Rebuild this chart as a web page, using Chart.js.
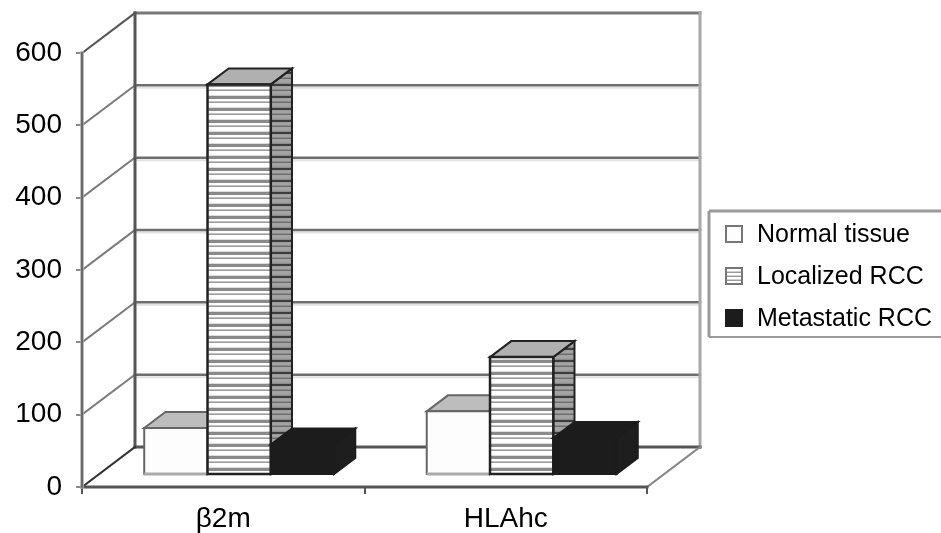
<!DOCTYPE html>
<html>
<head>
<meta charset="utf-8">
<script src="https://cdn.jsdelivr.net/npm/chart.js@4/dist/chart.umd.min.js"></script>
<style>
  html, body { margin: 0; padding: 0; background: #fff; }
  #wrap { width: 941px; height: 533px; position: relative; }
</style>
</head>
<body>
<div id="wrap"><canvas id="chart"></canvas></div>
<script>
const categories = ['β2m', 'HLAhc']
const seriesNames = ['Normal tissue', 'Localized RCC', 'Metastatic RCC']
const normalTissue = [65, 88]
const localizedRcc = [540, 163]
const metastaticRcc = [42, 51]
const yTicks = [0, 100, 200, 300, 400, 500, 600]

const FONT = "'Liberation Sans', Arial, sans-serif"

// floor depth in pixels, and where the bars sit inside it
const DX = 53, DY = -40
const FRONT = 0.3, DEPTH = 0.4

function line(ctx, x1, y1, x2, y2, color, w) {
  ctx.beginPath()
  ctx.moveTo(x1, y1)
  ctx.lineTo(x2, y2)
  ctx.strokeStyle = color
  ctx.lineWidth = w
  ctx.stroke()
}

function poly(ctx, pts, fill, stroke, w) {
  ctx.beginPath()
  ctx.moveTo(pts[0][0], pts[0][1])
  pts.slice(1).forEach((p) => ctx.lineTo(p[0], p[1]))
  ctx.closePath()
  ctx.fillStyle = fill
  ctx.fill()
  if (stroke) {
    ctx.strokeStyle = stroke
    ctx.lineWidth = w
    ctx.stroke()
  }
}

// horizontal stripe patterns like the old excel fills
function stripes(rows) {
  const c = document.createElement('canvas')
  c.width = 4
  c.height = rows.length
  const g = c.getContext('2d')
  rows.forEach((col, i) => {
    g.fillStyle = col
    g.fillRect(0, i, 4, 1)
  })
  return c
}

const frontRows = ['#8a8a8a', '#8a8a8a', '#8a8a8a', '#fff', '#fff', '#c4c4c4', '#9c9c9c', '#fff', '#fff', '#fff', '#fff', '#dcdcdc']
const sideRows = ['#3c3c3c', '#3c3c3c', '#9c9c9c', '#a4a4a4', '#a4a4a4', '#8a8a8a', '#6c6c6c', '#a4a4a4', '#a4a4a4', '#a4a4a4', '#9c9c9c', '#8c8c8c']

const styles = [
  { front: '#fdfdfd', top: '#bdbdbd', side: '#d0d0d0', edge: '#666' },
  { front: null, top: '#b0b0b0', side: null, edge: '#222' },
  { front: '#1c1c1c', top: '#1c1c1c', side: '#1e1e1e', edge: '#1c1c1c' },
]

const box3d = {
  id: 'box3d',
  beforeDatasetsDraw(chart) {
    const { ctx, chartArea: a, scales: { y } } = chart
    const yp = (v) => y.getPixelForValue(v)
    const top = yTicks[yTicks.length - 1]
    ctx.save()
    ctx.lineCap = 'square'
    // back wall grid lines and left wall diagonals
    yTicks.forEach((v) => {
      if (v === 0 || v === top) return
      line(ctx, a.left + DX, yp(v) + DY + 2.5, a.right + DX, yp(v) + DY + 2.5, '#e2e2e2', 2)
      line(ctx, a.left + DX, yp(v) + DY, a.right + DX, yp(v) + DY, '#6e6e6e', 2.5)
      line(ctx, a.left, yp(v), a.left + DX, yp(v) + DY, '#7a7a7a', 2)
    })
    line(ctx, a.left + DX, yp(top) + DY, a.right + DX, yp(top) + DY, '#787878', 3)
    line(ctx, a.left, yp(top), a.left + DX, yp(top) + DY, '#555', 2)
    line(ctx, a.left + DX, yp(top) + DY, a.left + DX, yp(0) + DY, '#555', 3)
    line(ctx, a.right + DX, yp(top) + DY, a.right + DX, yp(0) + DY, '#a8a8a8', 3)
    // floor
    line(ctx, a.left + DX, yp(0) + DY, a.right + DX, yp(0) + DY, '#555', 3)
    line(ctx, a.left, yp(0), a.left + DX, yp(0) + DY, '#333', 2)
    line(ctx, a.right, yp(0), a.right + DX, yp(0) + DY, '#888', 2)
    line(ctx, a.left, yp(0), a.right, yp(0), '#555', 3)
    // front value axis
    line(ctx, a.left, yp(top), a.left, yp(0), '#aaa', 3.5)
    line(ctx, a.left, yp(top), a.left, yp(0), '#555', 1.5)
    ctx.restore()
  },
  afterDatasetsDraw(chart) {
    const { ctx } = chart
    const fPat = ctx.createPattern(stripes(frontRows), 'repeat')
    const sPat = ctx.createPattern(stripes(sideRows), 'repeat')
    const fx = DX * FRONT, fy = DY * FRONT
    const bx = DX * DEPTH, by = DY * DEPTH
    ctx.save()
    ctx.lineJoin = 'miter'
    categories.forEach((c, i) => {
      chart.data.datasets.forEach((ds, d) => {
        const el = chart.getDatasetMeta(d).data[i]
        const { x, y, base, width } = el.getProps(['x', 'y', 'base', 'width'], true)
        const st = styles[d]
        const xl = x - width / 2 + fx, xr = x + width / 2 + fx
        const yt = y + fy, yb = base + fy
        // side
        poly(ctx, [[xr, yt], [xr + bx, yt + by], [xr + bx, yb + by], [xr, yb]], st.side || sPat, st.edge, 2)
        // top
        poly(ctx, [[xl, yt], [xl + bx, yt + by], [xr + bx, yt + by], [xr, yt]], st.top, st.edge, 2)
        // front
        poly(ctx, [[xl, yt], [xr, yt], [xr, yb], [xl, yb]], st.front || fPat, st.edge, d === 1 ? 2.5 : 2)
        if (d === 0) line(ctx, xl, yb, xr, yb, '#aaa', 3)
      })
    })
    ctx.restore()
  },
  afterDraw(chart) {
    const { ctx } = chart
    ctx.save()
    ctx.fillStyle = '#fff'
    ctx.fillRect(710, 211, 240, 126)
    line(ctx, 709, 211, 945, 211, '#9a9a9a', 3)
    line(ctx, 709, 211, 709, 337, '#9a9a9a', 3)
    line(ctx, 709, 337, 945, 337, '#9a9a9a', 2)
    const fPat = ctx.createPattern(stripes(['#9a9a9a', '#fff', '#fff', '#d0d0d0']), 'repeat')
    chart.data.datasets.forEach((ds, d) => {
      const cy = 234 + d * 42
      const st = styles[d]
      ctx.fillStyle = d === 1 ? fPat : st.front
      ctx.fillRect(726, cy - 8, 16, 16)
      ctx.strokeStyle = d === 2 ? '#1c1c1c' : '#777'
      ctx.lineWidth = 2
      ctx.strokeRect(726, cy - 8, 16, 16)
      ctx.fillStyle = '#000'
      ctx.font = `25px ${FONT}`
      ctx.textBaseline = 'middle'
      ctx.textAlign = 'left'
      ctx.fillText(ds.label, 757, cy + 1)
    })
    ctx.restore()
  },
}

const tickFont = { family: FONT, size: 28 }

new Chart(document.getElementById('chart'), {
  type: 'bar',
  data: {
    labels: categories,
    datasets: [
      { label: seriesNames[0], data: normalTissue },
      { label: seriesNames[1], data: localizedRcc },
      { label: seriesNames[2], data: metastaticRcc },
    ].map((ds) => ({ ...ds, backgroundColor: 'rgba(0,0,0,0)', borderWidth: 0, categoryPercentage: 0.672, barPercentage: 1 })),
  },
  options: {
    responsive: true,
    maintainAspectRatio: false,
    animation: false,
    layout: { padding: { top: 53, right: 294, left: 0, bottom: 0 } },
    plugins: { legend: { display: false }, tooltip: { enabled: false } },
    scales: {
      x: {
        grid: { drawOnChartArea: false, drawTicks: true, tickLength: 7, color: '#555', lineWidth: 2, offset: true },
        border: { display: false },
        ticks: { font: tickFont, color: '#000', padding: 8, maxRotation: 0 },
        afterFit: (s) => { s.height = 46 },
      },
      y: {
        min: 0,
        max: 600,
        afterBuildTicks: (s) => { s.ticks = yTicks.map((v) => ({ value: v })) },
        grid: { drawOnChartArea: false, drawTicks: true, tickLength: 6, color: '#888', lineWidth: 2 },
        border: { display: false },
        ticks: { font: tickFont, color: '#000', padding: 14 },
        afterFit: (s) => { s.width = 82 },
      },
    },
  },
  plugins: [box3d],
})
</script>
</body>
</html>
